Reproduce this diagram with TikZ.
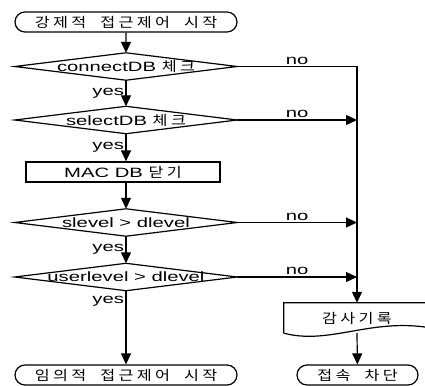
\documentclass[tikz,border=0pt]{standalone}
\usepackage{fontspec}
\setmainfont{Liberation Sans}[FakeStretch=1.5]
\newfontfamily\kr{Noto Sans CJK KR}[FakeStretch=1.2,LetterSpace=25,WordSpace=2]
\usetikzlibrary{arrows.meta,shapes.misc}

\begin{document}
\begin{tikzpicture}[x=1pt, y=-1pt,
  every node/.style={font=\fontsize{13.5}{15}\selectfont},
  term/.style   ={draw, rounded rectangle, line width=1.2pt,
                  minimum height=20pt, inner sep=0pt},
  dec/.style    ={minimum width=222pt, minimum height=27pt, inner sep=0pt},
  procbox/.style={draw, line width=1.2pt, minimum width=194pt,
                  minimum height=20pt, inner sep=0pt},
  docbox/.style ={minimum width=146pt, minimum height=30pt, inner sep=0pt},
  arr/.style    ={-{Triangle[length=11pt,width=10pt]}, line width=1.2pt},
  labl/.style   ={inner sep=1.5pt}]

\useasboundingbox (0,0) rectangle (425,385);

%% ── Main column ──────────────────────────────────────────────────
\node[term, minimum width=222pt] (start) at (126,22) {\kr 강제적 접근제어 시작};
\node[dec] (chk1)  at (126,66.5)  {connectDB {\kr 체크}};
\node[dec] (chk2)  at (126,120)   {selectDB {\kr 체크}};
\node[procbox] (close) at (123,172) {MAC DB {\kr 닫기}};
\node[dec] (chk3)  at (126,222.5) {slevel > dlevel};
\node[dec] (chk4)  at (126,277)   {userlevel > dlevel};
\node[term, minimum width=222pt] (endok) at (126,375) {\kr 임의적 접근제어 시작};

%% ── Right column ─────────────────────────────────────────────────
\node[docbox] (log) at (357,318) {\kr 감사기록};
\node[term, minimum width=121pt] (deny) at (357.5,375) {\kr 접속 차단};

%% ── Shape outlines ───────────────────────────────────────────────
\foreach \d in {chk1,chk2,chk3,chk4}
  \draw[line width=1.2pt] (\d.north) -- (\d.east) -- (\d.south) -- (\d.west) -- cycle;
\draw[line width=1.2pt] (log.south west) -- (log.north west) -- (log.north east) -- ++(0,25)
  .. controls +(-60,-10) and +(46,12) .. (log.south west);

%% ── Arrows: yes path ─────────────────────────────────────────────
\draw[arr] (start) -- (chk1);
\draw[arr] (chk1.south) -- node[labl, left]{yes} (chk2.north);
\draw[arr] (chk2.south) -- node[labl, left]{yes} (close.north -| chk2.south);
\draw[arr] (close.south -| chk3.north) -- (chk3.north);
\draw[arr] (chk3.south) -- node[labl, left]{yes} (chk4.north);
\draw[arr] (chk4.south) -- node[labl, left, pos=0.15]{yes} (endok.north);

%% ── Arrows: no path ──────────────────────────────────────────────
\draw[arr] (chk1.east) -- node[labl, above]{no} (chk1.east -| log.north) -- (log.north);
\draw[arr] (chk2.east) -- node[labl, above]{no} (chk2.east -| log.north);
\draw[arr] (chk3.east) -- node[labl, above]{no} (chk3.east -| log.north);
\draw[arr] (chk4.east) -- node[labl, above]{no} (chk4.east -| log.north);
\draw[arr] (log.south) -- (deny);
\end{tikzpicture}
\end{document}
